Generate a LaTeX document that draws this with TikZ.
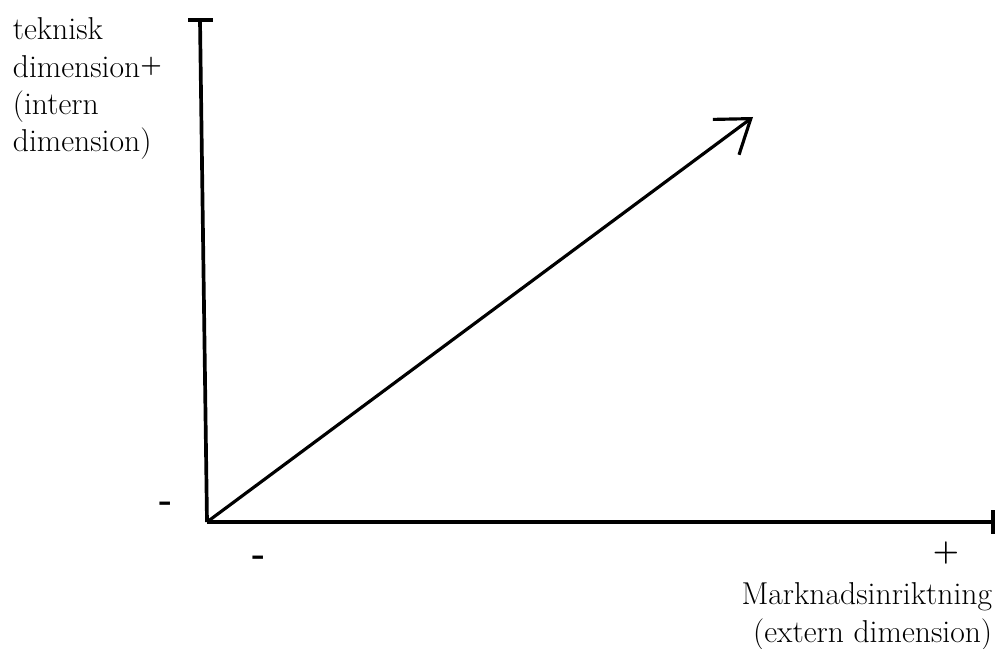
\documentclass[tikz,border=0pt]{standalone}
\usepackage{tikz}
\usetikzlibrary{arrows.meta}

\begin{document}
\begin{tikzpicture}[x=0.2mm, y=-0.2mm, line width=2.1pt,
    lbl/.style={inner sep=0pt, font=\fontsize{18}{21.2}\selectfont},
    sgn/.style={inner sep=0pt, font=\fontsize{20}{24}\selectfont\bfseries}]
        \useasboundingbox (0,0) rectangle (998,649);
        % Axes
        \coordinate (O) at (207,522);
        \coordinate (top) at (200,20);
        \coordinate (right) at (993,522);
        \coordinate (tip) at (753,117);
        \draw (O) -- (top);
        \draw (188,20) -- (213,20);
        \draw (O) -- (right);
        \draw (993,510) -- (993,534);
        % Diagonal arrow
        \draw[line width=1.8pt, -{Straight Barb[length=0.62cm, width=0.88cm]}] (O) -- (tip);
        % Labels
        \node[lbl, anchor=north west, align=left] (ydim) at (11,16)
          {teknisk\\dimension\raisebox{0.3ex}{\fontsize{14}{14}\selectfont\textbf{+}}\\(intern\\dimension)};
        \node[sgn] (ymin) at (166,507) {-};
        \node[sgn] (xmin) at (259,561) {-};
        \node[sgn, font=\fontsize{17}{20}\selectfont\bfseries] (xplus) at (946,553) {+};
        \node[lbl, anchor=north east, align=right] (xdim) at (994,581)
          {Marknadsinriktning\\(extern dimension)};
      \end{tikzpicture}
\end{document}
